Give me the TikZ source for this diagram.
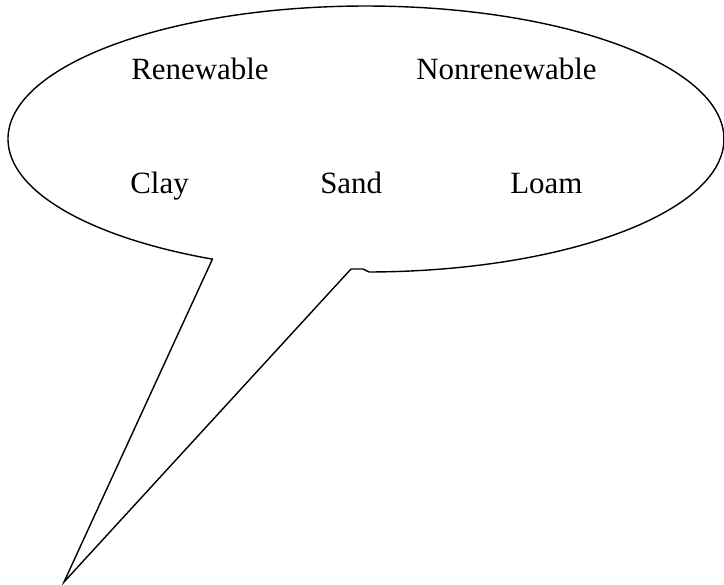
\documentclass[tikz,border=0pt]{standalone}
\usepackage{fontspec}
\setmainfont{Liberation Serif}
\usetikzlibrary{calc}

\begin{document}
\begin{tikzpicture}[
    x=0.025cm, y=-0.025cm,
    bubble/.style={draw=black, line width=1pt, line join=miter},
    word/.style={anchor=base west, inner sep=0pt, font=\rmfamily\fontsize{22}{26}\selectfont}
  ]
    \useasboundingbox (0,0) rectangle (724,585);

    %--- Speech bubble outline ---
    \coordinate (tip)  at (64,582);
    \coordinate (join) at (351,269);
    \coordinate (curl) at (363,269);
    \draw[bubble] (369.1,272.0)
      arc[start angle=89.5, end angle=-244.6, x radius=358, y radius=133]
      -- (tip) -- (join) -- (curl) -- cycle;

    %--- Words inside the bubble ---
    \node[word] (ren)    at (131,79)  {Renewable};
    \node[word] (nonren) at (416,79)  {Nonrenewable};
    \node[word] (clay)   at (130,193) {Clay};
    \node[word] (sand)   at (320,193) {Sand};
    \node[word] (loam)   at (510,193) {Loam};
\end{tikzpicture}
\end{document}
